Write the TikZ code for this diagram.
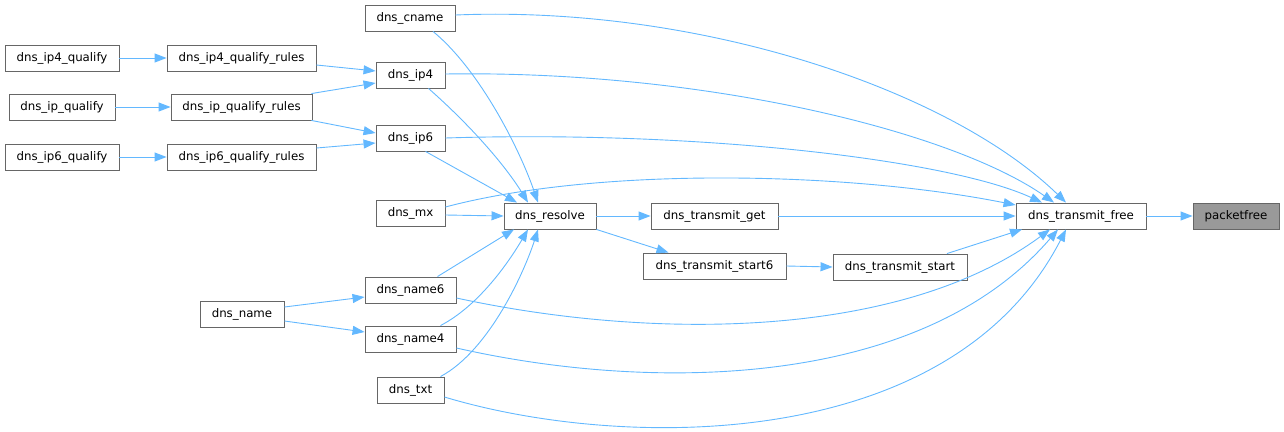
\documentclass[tikz,border=0pt]{standalone}
\usepackage{fontspec}
\setmainfont{DejaVu Sans}
\usetikzlibrary{arrows.meta}
\definecolor{edgeblue}{HTML}{63B8FF}
\definecolor{boxgray}{HTML}{666666}
\definecolor{hlfill}{HTML}{999999}
\tikzset{
  fn/.style={draw=boxgray, line width=0.9pt, fill=white, inner sep=0pt, minimum height=26pt,
    font=\fontsize{11.8}{14}\selectfont, text=black},
  hl/.style={fn, fill=hlfill},
  call/.style={draw=edgeblue, line width=0.9pt, -{Triangle[length=12pt,width=9pt]}}
}
\begin{document}
\begin{tikzpicture}[x=1pt,y=-1pt]
\useasboundingbox (0,0) rectangle (1284,431);
% nodes
\node[hl, minimum width=86pt]  (packetfree) at (1236,216) {packetfree};
\node[fn, minimum width=130pt] (free)   at (1081,216) {dns\_transmit\_free};
\node[fn, minimum width=127pt] (get)    at (714.5,216) {dns\_transmit\_get};
\node[fn, minimum width=143pt] (start6) at (714.5,266) {dns\_transmit\_start6};
\node[fn, minimum width=134pt] (start)  at (900,267) {dns\_transmit\_start};
\node[fn, minimum width=92pt]  (resolve) at (550,216) {dns\_resolve};
\node[fn, minimum width=90pt]  (cname)  at (410,18) {dns\_cname};
\node[fn, minimum width=69pt]  (ip4)    at (410.5,75) {dns\_ip4};
\node[fn, minimum width=69pt]  (ip6)    at (410.5,138) {dns\_ip6};
\node[fn, minimum width=69pt]  (mx)     at (410.5,213) {dns\_mx};
\node[fn, minimum width=91pt]  (name6)  at (410.5,290) {dns\_name6};
\node[fn, minimum width=91pt]  (name4)  at (410.5,339) {dns\_name4};
\node[fn, minimum width=67pt]  (txt)    at (410.5,390) {dns\_txt};
\node[fn, minimum width=84pt]  (name)   at (242,314) {dns\_name};
\node[fn, minimum width=114pt] (ip4q)   at (62,58) {dns\_ip4\_qualify};
\node[fn, minimum width=106pt] (ipq)    at (62,107) {dns\_ip\_qualify};
\node[fn, minimum width=114pt] (ip6q)   at (62,157) {dns\_ip6\_qualify};
\node[fn, minimum width=149pt] (ip4qr)  at (241.5,58) {dns\_ip4\_qualify\_rules};
\node[fn, minimum width=141pt] (ipqr)   at (241.5,107) {dns\_ip\_qualify\_rules};
\node[fn, minimum width=149pt] (ip6qr)  at (241.5,157) {dns\_ip6\_qualify\_rules};
% edges
\draw[call] (free.east) -- (packetfree.west);
\draw[call] (resolve.east) -- (get.west);
\draw[call] (resolve.south east) -- ([xshift=-46pt]start6.north);
\draw[call] (start6.east) -- (start.west);
\draw[call] (get.east) -- (free.west);
\draw[call] ([xshift=47pt]start.north) -- ([xshift=-59pt]free.south);
\draw[call] ([yshift=6pt]mx.east) .. controls (600,166) and (850,172) .. ([yshift=11pt]free.west);
\draw[call] (ip6.east) .. controls (700,130) and (950,160) .. ([xshift=-39pt]free.north);
\draw[call] ([yshift=1pt]ip4.east) .. controls (700,70) and (950,130) .. ([xshift=-27pt]free.north);
\draw[call] ([yshift=3pt]cname.east) .. controls (700,5) and (950,90) .. ([xshift=-15pt]free.north);
\draw[call] ([yshift=-8pt]name6.east) .. controls (650,340) and (900,340) .. ([xshift=-31pt]free.south);
\draw[call] ([yshift=-9pt]name4.east) .. controls (650,392) and (920,390) .. ([xshift=-23pt]free.south);
\draw[call] ([yshift=-7pt]txt.east) .. controls (620,450) and (950,455) .. ([xshift=-15pt]free.south);
% into dns_resolve
\draw[call] ([xshift=23pt]cname.south) .. controls (480,70) and (520,150) .. ([xshift=-12pt]resolve.north);
\draw[call] ([xshift=18pt]ip4.south) .. controls (470,125) and (505,165) .. ([xshift=-22pt]resolve.north);
\draw[call] ([xshift=15pt]ip6.south) -- ([xshift=-33pt]resolve.north);
\draw[call] ([yshift=-2pt]mx.east) -- (resolve.west);
\draw[call] ([xshift=27pt]name6.north) -- ([xshift=-36pt]resolve.south);
\draw[call] ([xshift=30pt]name4.north) .. controls (480,305) and (510,260) .. ([xshift=-22pt]resolve.south);
\draw[call] ([xshift=30pt]txt.north) .. controls (490,350) and (525,270) .. ([xshift=-12pt]resolve.south);
% left side
\draw[call] (ip4q.east) -- (ip4qr.west);
\draw[call] (ipq.east) -- (ipqr.west);
\draw[call] (ip6q.east) -- (ip6qr.west);
\draw[call] ([yshift=-7pt]ip4qr.east) -- ([yshift=4pt]ip4.west);
\draw[call] ([xshift=-1pt]ipqr.north east) -- ([yshift=-8pt]ip4.west);
\draw[call] ([xshift=-1pt]ipqr.south east) -- ([yshift=5pt]ip6.west);
\draw[call] ([yshift=9pt]ip6qr.east) -- ([yshift=-5pt]ip6.west);
\draw[call] ([yshift=7pt]name.east) -- ([yshift=-7pt]name6.west);
\draw[call] ([yshift=-7pt]name.east) -- ([yshift=7pt]name4.west);
\end{tikzpicture}
\end{document}
